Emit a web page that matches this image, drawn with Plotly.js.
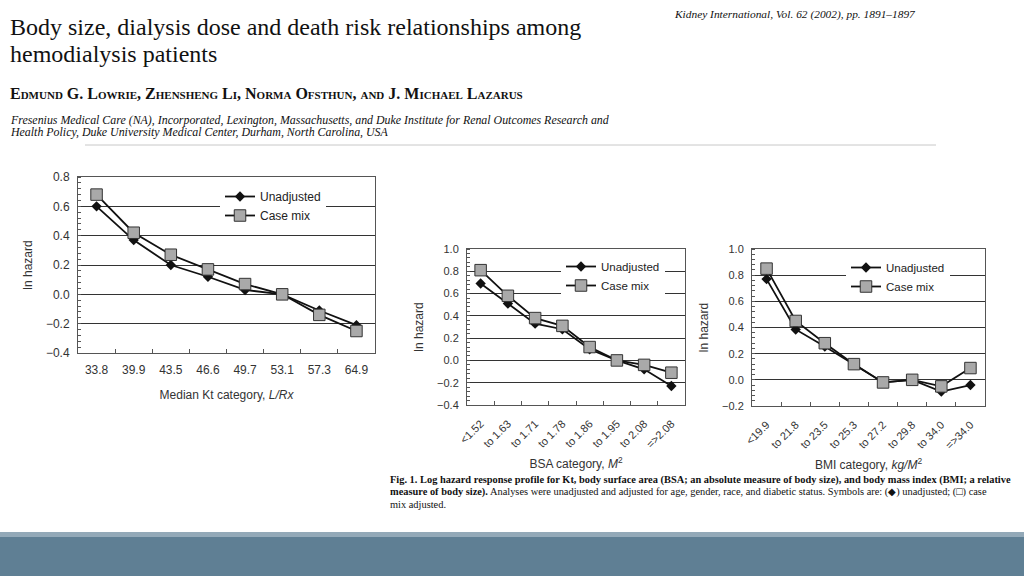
<!DOCTYPE html>
<html><head><meta charset="utf-8">
<script src="https://cdn.plot.ly/plotly-3.0.1.min.js"></script>
<style>html,body{margin:0;padding:0;background:#fff}#chart{width:1024px;height:576px}</style>
</head><body><div id="chart"></div>
<script>
// ---- data ----
const ktCategories = ["33.8","39.9","43.5","46.6","49.7","53.1","57.3","64.9"];
const ktUnadjusted = [0.60, 0.37, 0.20, 0.12, 0.03, 0.00, -0.11, -0.21];
const ktCaseMix    = [0.68, 0.42, 0.27, 0.17, 0.07, 0.00, -0.14, -0.25];

const bsaCategories = ["<1.52","to 1.63","to 1.71","to 1.78","to 1.86","to 1.95","to 2.08","=>2.08"];
const bsaUnadjusted = [0.69, 0.51, 0.33, 0.28, 0.10, 0.00, -0.08, -0.23];
const bsaCaseMix    = [0.81, 0.58, 0.38, 0.31, 0.12, 0.00, -0.04, -0.11];

const bmiCategories = ["<19.9","to 21.8","to 23.5","to 25.3","to 27.2","to 29.8","to 34.0","=>34.0"];
const bmiUnadjusted = [0.77, 0.385, 0.255, 0.12, -0.02, 0.00, -0.09, -0.04];
const bmiCaseMix    = [0.85, 0.45, 0.28, 0.12, -0.02, 0.00, -0.05, 0.09];

const seriesNames = ["Unadjusted", "Case mix"];

// ---- styles ----
const SANS = "Liberation Sans, Arial, sans-serif";
const SERIF = "Liberation Serif, Times New Roman, serif";
const lineU = {color:"#111", width:1.8};
const lineC = {color:"#111", width:1.8};
const markU = {symbol:"diamond", size:8, color:"#111"};
const markC = {symbol:"square", size:11.5, color:"#a9a9a9", line:{color:"#333", width:1}};

function pair(x, u, c, xa, ya, leg){
  return [
    {x:x, y:u, type:"scatter", mode:"lines+markers", name:seriesNames[0], xaxis:xa, yaxis:ya, legend:leg, line:lineU, marker:markU},
    {x:x, y:c, type:"scatter", mode:"lines+markers", name:seriesNames[1], xaxis:xa, yaxis:ya, legend:leg, line:lineC, marker:markC}
  ];
}
const data = [].concat(
  pair(ktCategories, ktUnadjusted, ktCaseMix, "x", "y", "legend"),
  pair(bsaCategories, bsaUnadjusted, bsaCaseMix, "x2", "y2", "legend2"),
  pair(bmiCategories, bmiUnadjusted, bmiCaseMix, "x3", "y3", "legend3")
);

const W = 1024, H = 576;
const px = v => v / W, py = v => 1 - v / H;

function xax(dom, anchor, angle, fs, title, lso, tso){
  return {domain:dom, anchor:anchor, type:"category", range:[-0.5,7.5],
    showgrid:false, zeroline:false, showline:true, linecolor:"#555", linewidth:1, mirror:true,
    ticks:"inside", tickson:"boundaries", ticklen:4, tickcolor:"#555", ticklabelstandoff:lso,
    tickangle:angle, tickfont:{family:SANS, size:fs, color:"#333"},
    title:{text:title, font:{family:SANS, size:12, color:"#333"}, standoff:tso}, fixedrange:true};
}
function yax(dom, anchor, range, fs){
  return {domain:dom, anchor:anchor, range:range, dtick:0.2, tick0:0, tickformat:".1f",
    showgrid:true, gridcolor:"#333", gridwidth:1, zeroline:false,
    showline:true, linecolor:"#555", linewidth:1, mirror:true,
    ticks:"outside", ticklen:0, tickcolor:"#555", ticklabelstandoff:5,
    minor:{dtick:0.04, ticks:"inside", ticklen:3, tickcolor:"#555", showgrid:false},
    tickfont:{family:SANS, size:fs, color:"#333"},
    title:{text:"ln hazard", font:{family:SANS, size:12, color:"#333"}, standoff:10}, fixedrange:true};
}

function ann(text, x, y, size, opts){
  return Object.assign({text:text, x:px(x), y:py(y), xref:"paper", yref:"paper",
    xanchor:"left", yanchor:"middle", showarrow:false, align:"left",
    font:Object.assign({family:SERIF, size:size, color:"#111"}, (opts&&opts.font)||{})}, opts&&opts.extra||{});
}

const annotations = [
  ann("Body size, dialysis dose and death risk relationships among", 8, 27, 24),
  ann("hemodialysis patients", 8, 54, 24),
  ann("<b>Edmund G. Lowrie, Zhensheng Li, Norma Ofsthun, and J. Michael Lazarus</b>", 8, 93, 16, {font:{variant:"small-caps"}}),
  ann("<i>Fresenius Medical Care (NA), Incorporated, Lexington, Massachusetts, and Duke Institute for Renal Outcomes Research and</i>", 8, 120, 11.9),
  ann("<i>Health Policy, Duke University Medical Center, Durham, North Carolina, USA</i>", 8, 132, 11.9),
  ann("<i>Kidney International, Vol. 62 (2002), pp. 1891–1897</i>", 672, 14, 11.4),
  ann("<b>Fig. 1. Log hazard response profile for Kt, body surface area (BSA; an absolute measure of body size), and body mass index (BMI; a relative</b>", 388, 480, 10.4),
  ann("<b>measure of body size).</b> Analyses were unadjusted and adjusted for age, gender, race, and diabetic status. Symbols are: (◆) unadjusted; (□) case", 388, 492, 10.4),
  ann("mix adjusted.", 388, 504, 10.4)
];

const shapes = [
  {type:"line", xref:"paper", yref:"paper", x0:px(85), x1:px(936), y0:py(145), y1:py(145), line:{color:"#c8c8c8", width:1}},
  {type:"rect", xref:"paper", yref:"paper", x0:0, x1:1, y0:0, y1:py(532), line:{width:0}, fillcolor:"#5f7f94"},
  {type:"rect", xref:"paper", yref:"paper", x0:0, x1:1, y0:py(537), y1:py(532), line:{width:0}, fillcolor:"#93a9b8"}
];

function leg(x, y, fs){
  return {x:px(x), y:py(y), xanchor:"left", yanchor:"top", bgcolor:"#ffffff", borderwidth:0,
    font:{family:SANS, size:fs, color:"#222"}, itemwidth:30, tracegroupgap:0, traceorder:"normal"};
}

const layout = {
  width:W, height:H, margin:{l:0,r:0,t:0,b:0}, paper_bgcolor:"#fff", plot_bgcolor:"#fff",
  showlegend:true,
  xaxis: xax([px(78), px(375)], "y", 0, 12, "Median Kt category, <i>L/Rx</i>", 6, 14),
  yaxis: yax([py(353), py(177)], "x", [-0.4, 0.8], 12),
  xaxis2: xax([px(467), px(685)], "y2", -45, 11, "BSA category, <i>M</i><sup>2</sup>", 7, 10),
  yaxis2: yax([py(405), py(249)], "x2", [-0.4, 1.0], 11),
  xaxis3: xax([px(752), px(985)], "y3", -45, 11, "BMI category, <i>kg/M</i><sup>2</sup>", 7, 10),
  yaxis3: yax([py(406), py(249)], "x3", [-0.2, 1.0], 11),
  legend: leg(220, 182, 12),
  legend2: leg(561, 252, 11.5),
  legend3: leg(846, 253, 11.5),
  annotations: annotations,
  shapes: shapes
};

Plotly.newPlot("chart", data, layout, {staticPlot:true, displayModeBar:false});
</script></body></html>
